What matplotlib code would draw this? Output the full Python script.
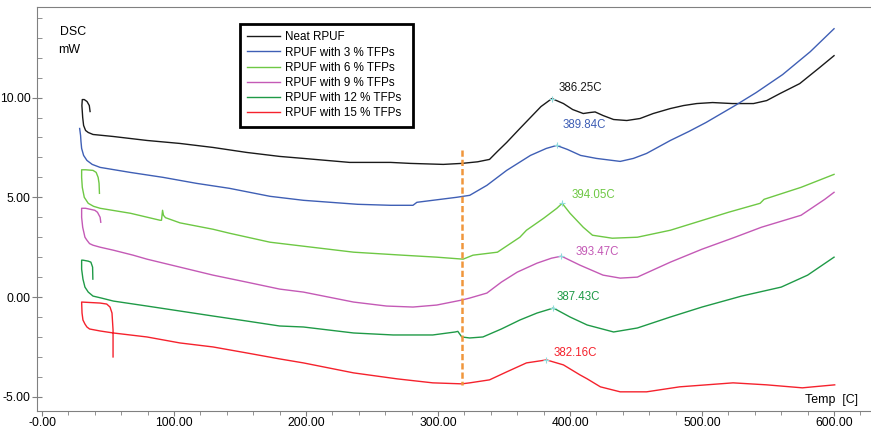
import matplotlib.pyplot as plt
from matplotlib.patches import Rectangle
from matplotlib.ticker import FixedLocator, FixedFormatter, MultipleLocator

plt.rcParams['font.family'] = ['Liberation Sans', 'DejaVu Sans']

# DSC traces: temperature (C) and heat flow (mW), one pair per sample
neat_t = [36.4, 35.8, 34.1, 32, 30.5, 30.2, 30.8, 31.5, 33, 35, 38.6, 53.8, 79.5, 104.5, 129.5,
          155, 180, 198, 233, 264, 279, 304, 318, 330, 339, 345, 352, 362, 370, 378, 386.25,
          395, 402, 410, 415, 419, 425, 433, 443, 453, 463, 476, 486, 496, 508, 523, 539, 549,
          559, 574, 589, 600]
neat_q = [9.3, 9.6, 9.8, 9.9, 9.9, 9.6, 9.0, 8.6, 8.35, 8.25, 8.15, 8.05, 7.85, 7.7, 7.5,
          7.25, 7.05, 6.95, 6.75, 6.75, 6.7, 6.65, 6.7, 6.78, 6.9, 7.3, 7.75, 8.45, 9.0, 9.55, 9.95,
          9.7, 9.4, 9.2, 9.25, 9.28, 9.1, 8.9, 8.85, 8.95, 9.2, 9.45, 9.6, 9.7, 9.75, 9.7, 9.7, 9.85,
          10.2, 10.7, 11.5, 12.1]

tfp3_t = [28.5, 29.2, 29.5, 30, 31.5, 34, 38, 44, 66.7, 91.7, 117, 142, 172.7, 198, 239, 264,
          281, 284, 314, 324, 337, 352, 370, 382, 389.84, 398, 408, 420, 438, 448, 458, 476, 490,
          503, 525, 541, 561, 582, 600]
tfp3_q = [8.45, 8.1, 7.8, 7.45, 7.1, 6.85, 6.65, 6.5, 6.25, 6.0, 5.7, 5.45, 5.05, 4.85, 4.65, 4.6,
          4.6, 4.75, 5.0, 5.1, 5.6, 6.35, 7.1, 7.45, 7.6, 7.4, 7.1, 6.95, 6.8, 6.95, 7.2, 7.85, 8.3,
          8.75, 9.6, 10.25, 11.15, 12.3, 13.45]

tfp6_t = [43.5, 43.2, 42.5, 41, 38.6, 33, 30, 30, 30.5, 32, 35, 39, 44, 67, 89.4, 90.5, 91.3, 92,
          93.5, 104.5, 129.5, 142, 172.7, 198, 236, 273, 299, 319, 326.5, 345, 362, 367, 380, 390,
          394.05, 400, 410, 417, 432, 451, 476, 498, 520, 544, 547, 575, 600]
tfp6_q = [5.2, 5.7, 6.0, 6.25, 6.35, 6.38, 6.38, 6.0, 5.5, 5.0, 4.7, 4.55, 4.45, 4.2, 3.85, 3.85,
          4.35, 4.1, 3.98, 3.72, 3.4, 3.2, 2.75, 2.55, 2.25, 2.1, 2.0, 1.9, 2.1, 2.25, 3.0, 3.35, 3.95,
          4.45, 4.7, 4.2, 3.5, 3.1, 2.95, 3.0, 3.35, 3.8, 4.25, 4.7, 4.9, 5.5, 6.15]

tfp9_t = [44.5, 44, 42, 40, 33, 30, 30, 30.8, 32.5, 34, 36, 38.6, 44, 54, 69, 79.5, 104.5, 129.5,
          155, 180, 198, 236, 261, 281, 299, 318, 324, 337, 348, 360, 375, 386, 393.47, 407.5, 425,
          438, 451, 476, 500, 525, 545, 575, 593, 600]
tfp9_q = [3.75, 4.0, 4.25, 4.35, 4.45, 4.45, 4.0, 3.5, 3.0, 2.85, 2.68, 2.6, 2.5, 2.35, 2.1, 1.9,
          1.5, 1.1, 0.75, 0.4, 0.25, -0.25, -0.45, -0.5, -0.4, -0.15, -0.05, 0.2, 0.75, 1.25, 1.7,
          1.95, 2.05, 1.6, 1.1, 0.95, 1.0, 1.75, 2.4, 3.0, 3.5, 4.1, 4.9, 5.25]

tfp12_t = [38.5, 38.3, 37, 35, 31, 30, 30, 31, 32.5, 35, 38.6, 45, 54, 79.5, 104.5, 129.5, 155,
           180, 198, 236, 266, 296, 313, 315, 318, 324, 334, 348, 362, 375, 387.43, 400, 413, 433,
           451, 476, 500, 530, 560, 580, 600]
tfp12_q = [0.9, 1.5, 1.75, 1.8, 1.85, 1.85, 1.4, 0.9, 0.5, 0.25, 0.05, -0.05, -0.2, -0.45, -0.7,
           -0.95, -1.2, -1.45, -1.5, -1.8, -1.9, -1.9, -1.75, -1.72, -2.0, -2.05, -2.0, -1.6, -1.15,
           -0.8, -0.55, -1.0, -1.4, -1.75, -1.55, -1.0, -0.5, 0.05, 0.5, 1.1, 2.0]

tfp15_t = [53.8, 53.8, 53, 51.5, 49, 44, 30, 30.3, 31, 32.5, 34, 36, 44, 54, 79.5, 104.5, 129.5,
           155, 180, 198, 236, 269, 296, 318, 324, 339, 352, 367, 382.16, 395, 407.5, 413, 423, 438,
           458, 483, 523.5, 549, 576, 584, 600.5]
tfp15_q = [-3.0, -1.65, -0.8, -0.5, -0.35, -0.3, -0.25, -0.8, -1.15, -1.35, -1.5, -1.6, -1.7, -1.8,
           -2.0, -2.3, -2.5, -2.8, -3.1, -3.3, -3.8, -4.1, -4.3, -4.35, -4.3, -4.15, -3.75, -3.3,
           -3.15, -3.4, -3.9, -4.1, -4.5, -4.75, -4.75, -4.5, -4.3, -4.4, -4.55, -4.5, -4.4]

labels = ['Neat RPUF', 'RPUF with 3 % TFPs', 'RPUF with 6 % TFPs', 'RPUF with 9 % TFPs',
          'RPUF with 12 % TFPs', 'RPUF with 15 % TFPs']
colors = ['#1a1a1a', '#3f5fb5', '#6ec844', '#c45ab6', '#1f9a47', '#f5222d']

# peak temperatures, heat flow at the peak, and where the peak label sits
peak_t = [386.25, 389.84, 394.05, 393.47, 387.43, 382.16]
peak_q = [9.95, 7.6, 4.7, 2.05, -0.55, -3.15]
peak_lbl_xy = [(408, 10.5), (410.5, 8.6), (418, 5.1), (421, 2.25), (406, 0.0), (404, -2.8)]

onset_t = 318
onset_range = (7.35, -4.4)

xticks = [0, 100, 200, 300, 400, 500, 600]
xtick_labels = ['-0.00', '100.00', '200.00', '300.00', '400.00', '500.00', '600.00']
yticks = [-5, 0, 5, 10]
ytick_labels = ['-5.00', '0.00', '5.00', '10.00']

fig = plt.figure(figsize=(8.71, 4.29), dpi=100)
ax = fig.add_axes([0.0425, 0.042, 0.9575, 0.9417])

series = [(neat_t, neat_q), (tfp3_t, tfp3_q), (tfp6_t, tfp6_q),
          (tfp9_t, tfp9_q), (tfp12_t, tfp12_q), (tfp15_t, tfp15_q)]
for (t, q), lab, c in zip(series, labels, colors):
    ax.plot(t, q, color=c, lw=1.0, label=lab)

for pt, pq, (lx, ly), c in zip(peak_t, peak_q, peak_lbl_xy, colors):
    ax.plot(pt, pq, marker='+', ms=4, mew=0.8, color='#8fdcdc')
    ax.text(lx, ly, f'{pt:.2f}C', color=c, fontsize=8.3, ha='center', va='center')

ax.plot([onset_t, onset_t], onset_range, color='#f0963c', lw=1.8, dashes=(2.5, 1.2))

ax.set_xlim(-3.8, 628)
ax.set_ylim(-5.71, 14.54)

ax.xaxis.set_major_locator(FixedLocator(xticks))
ax.xaxis.set_major_formatter(FixedFormatter(xtick_labels))
ax.xaxis.set_minor_locator(MultipleLocator(20))
ax.yaxis.set_major_locator(FixedLocator(yticks))
ax.yaxis.set_major_formatter(FixedFormatter(ytick_labels))
ax.yaxis.set_minor_locator(MultipleLocator(1))

ax.tick_params(axis='x', which='major', direction='out', length=3.5, color='#808080', labelsize=8.7, pad=0.5)
ax.tick_params(axis='x', which='minor', direction='out', length=3, color='#808080')
ax.tick_params(axis='y', which='major', direction='inout', length=7, color='#808080', labelsize=8.7, pad=1)
ax.tick_params(axis='y', which='minor', direction='in', length=3.5, color='#808080')

for side in ['left', 'bottom', 'top']:
    ax.spines[side].set_color('#808080')
ax.spines['right'].set_visible(False)

ax.text(0.0276, 0.953, 'DSC', transform=ax.transAxes, fontsize=8.9, va='top', ha='left')
ax.text(0.0252, 0.909, 'mW', transform=ax.transAxes, fontsize=8.9, va='top', ha='left')
ax.text(0.984, 0.012, 'Temp  [C]', transform=ax.transAxes, fontsize=8.9, va='bottom', ha='right')

# legend entries without their own frame, boxed by a fixed rectangle
leg = ax.legend(loc='upper left', bbox_to_anchor=(0.2518, 0.9396), borderaxespad=0,
                fontsize=8.4, frameon=False, handlelength=2.85,
                handletextpad=0.43, labelspacing=0.27, borderpad=0)
ax.add_patch(Rectangle((0.2434, 0.703), 0.2074, 0.255, transform=ax.transAxes,
                       fill=False, edgecolor='black', lw=2, zorder=5))

fig.savefig('out.png', dpi=100)
